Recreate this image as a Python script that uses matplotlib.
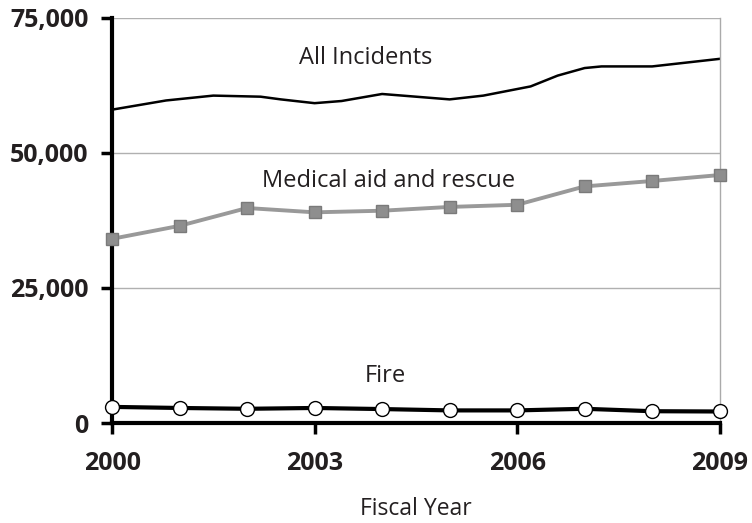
import matplotlib.pyplot as plt
import numpy as np

plt.rcParams['font.family'] = ['Open Sans', 'DejaVu Sans']

# Data
years = [2000, 2001, 2002, 2003, 2004, 2005, 2006, 2007, 2008, 2009]
medical = [34100, 36500, 39800, 39000, 39300, 40000, 40400, 43800, 44800, 45900]
fire = [3000, 2800, 2650, 2800, 2600, 2350, 2350, 2650, 2200, 2150]

# All incidents is a smooth curve
all_x = [2000, 2000.8, 2001.5, 2002.2, 2002.5, 2003.0, 2003.4, 2004.0, 2004.5,
         2005.0, 2005.5, 2006.2, 2006.6, 2007.0, 2007.25, 2008.0, 2009.0]
all_y = [58000, 59700, 60600, 60400, 59900, 59200, 59600, 60900, 60400,
         59900, 60600, 62300, 64300, 65700, 66000, 66000, 67400]

txt = '#231f20'

fig = plt.figure(figsize=(7.52, 5.23), dpi=100)
ax = fig.add_axes([0.149, 0.191, 0.808, 0.775])

ax.plot(all_x, all_y, color='black', lw=1.8, solid_joinstyle='round')
ax.plot(years, medical, color='#999999', lw=2.8, marker='s', markersize=9,
        markerfacecolor='#8e8e8e', markeredgecolor='#7a7a7a', clip_on=False, zorder=3)
ax.plot(years, fire, color='black', lw=3, marker='o', markersize=10,
        markerfacecolor='white', markeredgecolor='black', markeredgewidth=1,
        clip_on=False, zorder=4)

ax.text(2003.75, 67600, 'All Incidents', ha='center', va='center', fontsize=17, color=txt)
ax.text(2004.1, 44800, 'Medical aid and rescue', ha='center', va='center', fontsize=17, color=txt)
ax.text(2004.05, 8700, 'Fire', ha='center', va='center', fontsize=17, color=txt)

ax.set_xlim(2000, 2009)
ax.set_ylim(0, 75000)
ax.set_xticks([2000, 2003, 2006, 2009])
ax.set_yticks([0, 25000, 50000, 75000])
ax.set_yticklabels(['0', '25,000', '50,000', '75,000'])
for lab in ax.get_xticklabels() + ax.get_yticklabels():
    lab.set_fontweight('bold')
    lab.set_fontsize(18)
    lab.set_color(txt)

ax.yaxis.grid(True, color='#b0b0b0', lw=1)
ax.set_axisbelow(True)
ax.spines['top'].set_visible(False)
ax.spines['right'].set_color('#aaaaaa')
ax.spines['right'].set_linewidth(1)
ax.spines['left'].set_linewidth(3)
ax.spines['bottom'].set_linewidth(3)
ax.tick_params(axis='both', length=8, width=2.5, direction='out')
ax.tick_params(axis='y', pad=9)
ax.tick_params(axis='x', pad=12)

ax.set_xlabel('Fiscal Year', fontsize=16.5, color=txt, labelpad=15)

fig.savefig('out.png', dpi=100)
